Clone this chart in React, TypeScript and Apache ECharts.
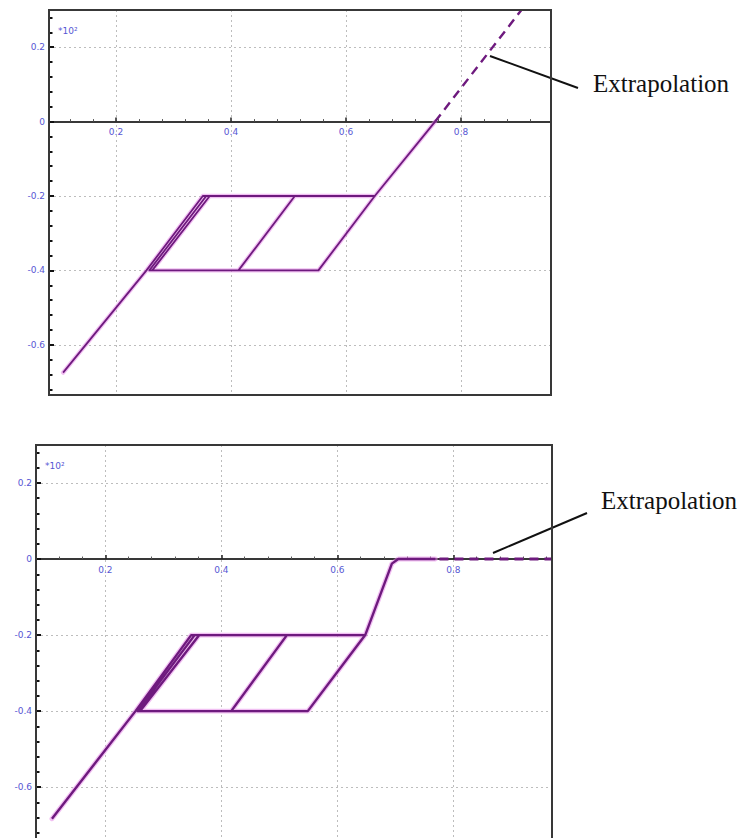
import React, { useEffect, useRef } from "react";
import * as echarts from "echarts";

// ---- Data ----
// Top chart: solid path
const topPathX = [0.108, 0.253, 0.351, 0.511, 0.413, 0.258, 0.357, 0.65, 0.552, 0.263, 0.363, 0.65, 0.755];
const topPathY = [-0.675, -0.4, -0.2, -0.2, -0.4, -0.4, -0.2, -0.2, -0.4, -0.4, -0.2, -0.2, 0];
// Top chart: extrapolation (dashed)
const topExtrapX = [0.755, 0.905];
const topExtrapY = [0, 0.3];

// Bottom chart: solid path
const botPathX = [0.108, 0.252, 0.348, 0.513, 0.417, 0.256, 0.354, 0.648, 0.549, 0.26, 0.362, 0.648, 0.694, 0.705, 0.769];
const botPathY = [-0.683, -0.4, -0.2, -0.2, -0.4, -0.4, -0.2, -0.2, -0.4, -0.4, -0.2, -0.2, -0.012, 0, 0];
// Bottom chart: extrapolation (dashed)
const botExtrapX = [0.776, 0.97];
const botExtrapY = [0, 0];

// Axis extents
const topXRange = [0.0835, 0.9565];
const topYRange = [-0.735, 0.3];
const botXRange = [0.0805, 0.97];
const botYRange = [-0.76, 0.3];

const annotationText = "Extrapolation";
const unitText = "*10²";

const zip = (xs: number[], ys: number[]) => xs.map((x, i) => [x, ys[i]]);

const LABEL_COLOR = "#5757d4";
const AXIS_COLOR = "#383838";
const LINE_COLOR = "#6e1a7e";
const GLOW_COLOR = "#e68ae8";

const GRID1 = { left: 49, top: 10, width: 502, height: 385 };
const GRID2 = { left: 36, top: 445, width: 516, height: 403 };

function fmt(v: number) {
  const r = Math.round(v * 10) / 10;
  return String(r);
}

function xAxisCfg(gridIndex: number, range: number[], yRange: number[], gridH: number) {
  // place the x axis on the y = 0 line (line, ticks and labels together)
  const zeroFromBottom = (gridH * (0 - yRange[0])) / (yRange[1] - yRange[0]);
  return {
    type: "value",
    gridIndex,
    position: "bottom",
    offset: -zeroFromBottom,
    min: range[0],
    max: range[1],
    splitNumber: 5,
    axisLine: { show: true, onZero: false, lineStyle: { color: AXIS_COLOR, width: 2 } },
    axisTick: { show: true, inside: true, length: 4, lineStyle: { color: "#222", width: 1.5 } },
    minorTick: { show: true, splitNumber: 5, length: 2.5, lineStyle: { color: "#555", width: 1 } },
    axisLabel: {
      show: true,
      color: LABEL_COLOR,
      fontSize: 9,
      fontFamily: "DejaVu Sans",
      margin: 6,
      showMinLabel: false,
      showMaxLabel: false,
      formatter: fmt,
    },
    splitLine: { show: true, lineStyle: { color: "#bdbdbd", type: [2, 3], width: 1 } },
  };
}

function yAxisCfg(gridIndex: number, range: number[]) {
  return {
    type: "value",
    gridIndex,
    position: "left",
    min: range[0],
    max: range[1],
    splitNumber: 5,
    axisLine: { show: true, onZero: false, lineStyle: { color: AXIS_COLOR, width: 2 } },
    axisTick: { show: true, inside: true, length: 5, lineStyle: { color: "#111", width: 2 } },
    minorTick: { show: true, splitNumber: 5, length: 3.5, lineStyle: { color: "#111", width: 2 } },
    axisLabel: {
      show: true,
      color: LABEL_COLOR,
      fontSize: 9,
      fontFamily: "DejaVu Sans",
      margin: 4,
      showMinLabel: false,
      showMaxLabel: false,
      formatter: fmt,
    },
    splitLine: { show: true, lineStyle: { color: "#bdbdbd", type: [2, 3], width: 1 } },
  };
}

function lineSeries(idx: number, data: number[][], width: number, dashed: boolean, glow: boolean) {
  return {
    type: "line",
    xAxisIndex: idx,
    yAxisIndex: idx,
    data,
    showSymbol: false,
    symbol: "none",
    silent: true,
    z: glow ? 2 : 3,
    lineStyle: glow
      ? { color: GLOW_COLOR, width: width + 2.5, opacity: 0.55, join: "round", cap: "round" }
      : {
          color: LINE_COLOR,
          width,
          type: dashed ? [9, 6] : "solid",
          join: "round",
          cap: "butt",
        },
  };
}

function borderRect(g: { left: number; top: number; width: number; height: number }) {
  return {
    type: "rect",
    z: 100,
    silent: true,
    shape: { x: g.left, y: g.top, width: g.width, height: g.height },
    style: { fill: "none", stroke: AXIS_COLOR, lineWidth: 2 },
  };
}

export default function App() {
  const ref = useRef<HTMLDivElement>(null);

  useEffect(() => {
    if (!ref.current) return;
    const chart = echarts.init(ref.current, null, { renderer: "svg" });
    const topPath = zip(topPathX, topPathY);
    const topExtrap = zip(topExtrapX, topExtrapY);
    const botPath = zip(botPathX, botPathY);
    const botExtrap = zip(botExtrapX, botExtrapY);

    chart.setOption({
      animation: false,
      backgroundColor: "#ffffff",
      grid: [
        { ...GRID1, show: false, containLabel: false },
        { ...GRID2, show: false, containLabel: false },
      ],
      xAxis: [
        xAxisCfg(0, topXRange, topYRange, GRID1.height),
        xAxisCfg(1, botXRange, botYRange, GRID2.height),
      ],
      yAxis: [yAxisCfg(0, topYRange), yAxisCfg(1, botYRange)],
      series: [
        lineSeries(0, topPath, 1.8, false, true),
        lineSeries(0, topPath, 1.8, false, false),
        lineSeries(0, topExtrap, 2.4, true, false),
        lineSeries(1, botPath, 2.4, false, true),
        lineSeries(1, botPath, 2.4, false, false),
        lineSeries(1, botExtrap, 3, true, false),
      ],
      graphic: [
        borderRect(GRID1),
        borderRect(GRID2),
        {
          type: "text",
          x: 58,
          y: 31,
          style: { text: unitText, fill: LABEL_COLOR, fontSize: 9, fontFamily: "DejaVu Sans", verticalAlign: "middle" },
        },
        {
          type: "text",
          x: 45,
          y: 466,
          style: { text: unitText, fill: LABEL_COLOR, fontSize: 9, fontFamily: "DejaVu Sans", verticalAlign: "middle" },
        },
        {
          type: "line",
          shape: { x1: 490, y1: 56, x2: 578, y2: 88 },
          style: { stroke: "#111", lineWidth: 2 },
        },
        {
          type: "text",
          x: 593,
          y: 83,
          style: { text: annotationText, fill: "#111", fontSize: 25, fontFamily: "Liberation Serif", verticalAlign: "middle" },
        },
        {
          type: "line",
          shape: { x1: 493, y1: 553, x2: 587, y2: 513 },
          style: { stroke: "#111", lineWidth: 2 },
        },
        {
          type: "text",
          x: 601,
          y: 500,
          style: { text: annotationText, fill: "#111", fontSize: 25, fontFamily: "Liberation Serif", verticalAlign: "middle" },
        },
      ],
    });
    return () => chart.dispose();
  }, []);

  return (
    <div
      ref={ref}
      style={{ position: "fixed", left: 0, top: 0, width: 752, height: 852, background: "#fff" }}
    />
  );
}
